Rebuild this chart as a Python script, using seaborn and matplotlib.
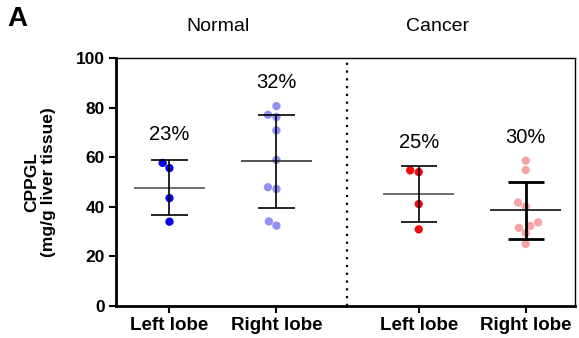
import numpy as np
import pandas as pd
import matplotlib.pyplot as plt
import seaborn as sns

# values (mg/g liver tissue)
normal_left = [55.6, 57.7, 43.5, 34.0]
normal_right = [80.6, 76.2, 77.1, 70.8, 58.9, 47.2, 47.9, 32.4, 34.1]
cancer_left = [54.0, 54.7, 41.1, 30.9]
cancer_right = [58.6, 54.8, 41.7, 40.1, 33.7, 32.3, 31.5, 29.4, 25.0]

tick_labels = ["Left lobe", "Right lobe", "Left lobe", "Right lobe"]
positions = [0, 1, 2.33, 3.33]
cv_labels = ["23%", "32%", "25%", "30%"]
cv_y = [69, 90, 66, 68]
colors = ["#0a0ae6", "#9191f2", "#f20a0a", "#f5a3a3"]
mean_colors = ["#555555", "#333333", "#555555", "#111111"]
bar_lw = [1.2, 1.2, 1.2, 2.0]

groups = [normal_left, normal_right, cancer_left, cancer_right]
rows = []
for i, vals in enumerate(groups):
    for v in vals:
        rows.append({"pos": positions[i], "val": v, "grp": str(i)})
df = pd.DataFrame(rows)

sns.set_style("ticks")
plt.rcParams['font.family'] = ['Liberation Sans', 'DejaVu Sans']
plt.rcParams['text.color'] = 'black'
plt.rcParams['axes.labelcolor'] = 'black'
plt.rcParams['xtick.color'] = 'black'
plt.rcParams['ytick.color'] = 'black'
plt.rcParams['axes.edgecolor'] = 'black'

fig = plt.figure(figsize=(5.79, 3.38), dpi=100)
ax = fig.add_axes([0.2003, 0.0947, 0.7927, 0.7337])

sns.swarmplot(data=df, x="pos", y="val", hue="grp", palette=colors,
              native_scale=True, size=6, ax=ax, legend=False, zorder=2)

for i, vals in enumerate(groups):
    m = np.mean(vals)
    sd = np.std(vals, ddof=1)
    p = positions[i]
    ax.hlines(m, p - 0.33, p + 0.33, color=mean_colors[i], lw=1.2, zorder=3)
    ax.vlines(p, m - sd, m + sd, color="black", lw=bar_lw[i], zorder=3)
    ax.hlines([m - sd, m + sd], p - 0.17, p + 0.17, color="black", lw=bar_lw[i], zorder=3)
    ax.text(p, cv_y[i], cv_labels[i], ha="center", va="center", fontsize=14.5)

ax.axvline(1.66, color="black", ls=(0, (1, 2.5)), lw=1.6)

ax.set_xlim(-0.5, 3.79)
ax.set_ylim(0, 100)
ax.set_xticks(positions)
ax.set_xticklabels(tick_labels, fontsize=13.5, fontweight="bold")
ax.set_yticks([0, 20, 40, 60, 80, 100])
ax.set_yticklabels([0, 20, 40, 60, 80, 100], fontsize=12.5, fontweight="bold")
ax.set_xlabel("")
ax.set_ylabel("CPPGL\n(mg/g liver tissue)", fontsize=12.5, fontweight="bold", labelpad=14)
ax.tick_params(axis="both", width=1.5, length=5, color="black", pad=3)

for side in ["left", "bottom"]:
    ax.spines[side].set_linewidth(2)
for side in ["top", "right"]:
    ax.spines[side].set_linewidth(1)
    ax.spines[side].set_visible(True)

fig.text(0.377, 0.922, "Normal", ha="center", va="center", fontsize=14)
fig.text(0.755, 0.922, "Cancer", ha="center", va="center", fontsize=14)
fig.text(0.012, 0.944, "A", ha="left", va="center", fontsize=20, fontweight="bold")

fig.savefig("out.png", dpi=100)
